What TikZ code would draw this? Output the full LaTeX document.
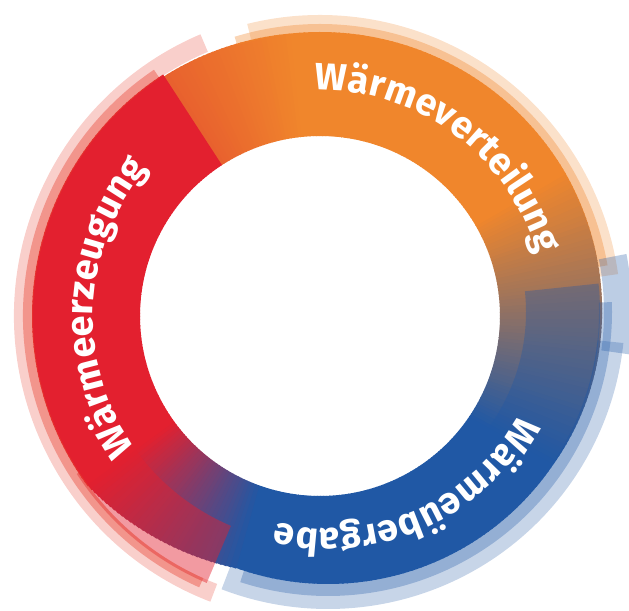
\documentclass[tikz,border=0pt]{standalone}
\usepackage{fontspec}
\setsansfont{Fira Sans}
\usepackage{xcolor}
\usetikzlibrary{decorations.text}

\definecolor{heatred}{HTML}{E3202F}
\definecolor{heatorange}{HTML}{F0862C}
\definecolor{heatmid}{HTML}{E8602E}
\definecolor{heatblue}{HTML}{2058A5}
\colorlet{heatsalmon}{heatred!70!heatorange}
\newcommand{\ringfont}{\fontsize{38}{38}\selectfont\sffamily\bfseries}
% annular sector: start angle, end angle, inner radius, outer radius
\newcommand{\ringseg}[4]{(#1:#3) arc[start angle=#1, end angle=#2, radius=#3] -- (#2:#4) arc[start angle=#2, end angle=#1, radius=#4] -- cycle}

\tikzset{
  ringlabel/.style={decorate, decoration={text along path, text align=center,
    text color=white, text={|\ringfont|#1}}},
}

\begin{document}
\begin{tikzpicture}[x=1bp, y=1bp]
\useasboundingbox (0,0) rectangle (629,611);
\def\cx{320}     % centre of the white hole
\def\cy{295}
\def\rin{180}    % inner radius, shared by all three arms

\begin{scope}[shift={(\cx,\cy)}]
% ================= base ring: colour runs round the circle =================
% from/to angle, colour at start/end, outer radius at start/end,
% share of the blue arm's offset centre at start/end
\foreach \from/\to/\ca/\cb/\ra/\rb/\fa/\fb in {
    -110/-35/heatblue/heatblue/272/272/1/1,
    -35/30/heatblue/heatorange/272/284/1/0,
    30/95/heatorange/heatorange/284/284/0/0,
    95/123/heatorange/heatmid/284/286/0/0,
    123/215/heatred/heatred/288/288/0/0,
    215/250/heatred/heatblue/288/272/0/1} {
  \pgfmathtruncatemacro{\last}{\to-1}
  \foreach \a in {\from,...,\last} {
    \pgfmathsetmacro{\t}{(\a-\from)/(\to-\from)}
    \pgfmathtruncatemacro{\p}{100*\t}
    \pgfmathsetmacro{\r}{\ra+(\rb-\ra)*\t}
    \pgfmathsetmacro{\f}{\fa+(\fb-\fa)*\t}
    \pgfmathsetmacro{\b}{\a+1.3}
    \fill[\cb!\p!\ca] (\a:\rin) -- (\b:\rin)
      -- ([shift={(8*\f,4*\f)}]\b:\r) -- ([shift={(8*\f,4*\f)}]\a:\r) -- cycle;
  }
}

% ---------- layered edges (bands overlap, so no seams) ----------
\fill[heatred, opacity=0.45] \ringseg{213}{247}{228}{290};
\fill[heatorange, opacity=0.25] \ringseg{8}{104}{283}{301};
\fill[heatorange, opacity=0.35] \ringseg{10}{107}{283}{292};
\fill[heatsalmon, opacity=0.25] \ringseg{113}{249}{287}{306};
\fill[heatsalmon, opacity=0.40] \ringseg{124}{246}{287}{297};

\begin{scope}[shift={(8,4)}]
  \fill[heatblue, opacity=0.35] \ringseg{-40}{6}{198}{272};
  \fill[heatblue, opacity=0.25] \ringseg{-111}{-6}{271}{297};
  \fill[heatblue, opacity=0.30] \ringseg{-108}{2}{271}{284};
  \fill[heatblue, opacity=0.30] \ringseg{-8}{11}{276}{304};
\end{scope}

% ================= labels =================
\path[ringlabel=Wärmeverteilung] (110:226) arc[start angle=110, end angle=-3, radius=226];
\path[ringlabel=Wärmeerzeugung] (240:227) arc[start angle=240, end angle=115, radius=227];
\begin{scope}[shift={(8,4)}]
  \path[ringlabel=Wärmeübergabe] (-10:217) arc[start angle=-10, end angle=-122, radius=217];
\end{scope}
\end{scope}
\end{tikzpicture}
\end{document}
